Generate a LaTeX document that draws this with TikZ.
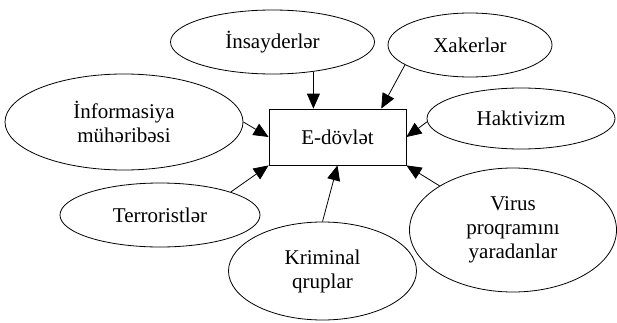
\documentclass[tikz,border=0pt]{standalone}
\usepackage{fontspec}
\setmainfont{Liberation Serif}
\newfontfamily\termfont{Liberation Serif}
\usetikzlibrary{shapes.geometric,arrows.meta}
\begin{document}
\begin{tikzpicture}[x=1pt,y=1pt,
        every node/.style={font=\termfont\fontsize{21}{24}\selectfont,align=center,line width=0.8pt},
        oval/.style={draw,ellipse,inner sep=0pt},
        arr/.style={-{Triangle[length=15pt,width=13pt]},line width=0.8pt}]
            \useasboundingbox (0,0) rectangle (617,322);
            \node[draw,minimum width=137pt,minimum height=56pt] (gov) at (337.5,185) {E-dövlət};
            \node[oval,minimum width=204pt,minimum height=64pt] (ins) at (272.5,280) {İnsayderlər};
            \node[oval,minimum width=164pt,minimum height=64pt] (xak) at (470,277) {Xakerlər};
            \node[oval,minimum width=188pt,minimum height=61pt] (hak) at (521,203.5) {Haktivizm};
            \node[oval,minimum width=238pt,minimum height=96pt] (inf) at (124,200) {İnformasiya\\mühəribəsi};
            \node[oval,minimum width=200pt,minimum height=64pt] (ter) at (160,107) {Terroristlər};
            \node[oval,minimum width=188pt,minimum height=98pt] (kri) at (322.5,51) {Kriminal\\qruplar};
            \node[oval,minimum width=207pt,minimum height=124pt] (vir) at (513,92) {Virus\\proqramını\\yaradanlar};
            \draw[arr] (ins.-36) -- (ins.-36 |- gov.north);
            \draw[arr] (xak.197) -- (gov.33);
            \draw[arr] (hak.182) -- (gov.east);
            \draw[arr] (inf.east) -- (gov.west);
            \draw[arr] (ter.18) -- (gov.south west);
            \draw[arr] (kri.north) -- (gov.south);
            \draw[arr] (vir.149) -- (gov.south east);
        \end{tikzpicture}
\end{document}
